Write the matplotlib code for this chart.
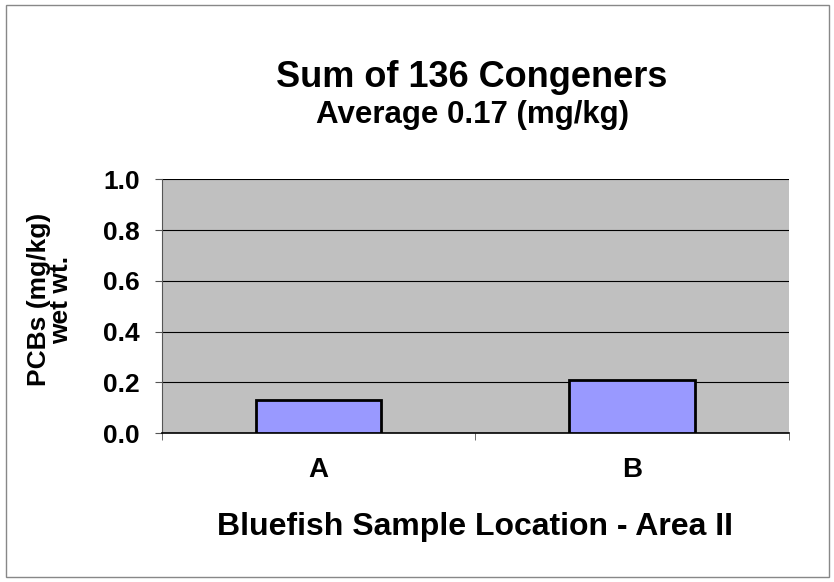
import matplotlib.pyplot as plt
from matplotlib.patches import Rectangle

plt.rcParams['font.family'] = ['Liberation Sans', 'DejaVu Sans']
plt.rcParams['font.weight'] = 'bold'

locations = ['A', 'B']
pcbs = [0.13, 0.21]
yticks = [0.0, 0.2, 0.4, 0.6, 0.8, 1.0]

fig = plt.figure(figsize=(8.34, 5.82), dpi=100)
fig.patches.append(Rectangle((0.007, 0.008), 0.987, 0.984, transform=fig.transFigure,
                             fill=False, edgecolor='#888888', linewidth=1))
ax = fig.add_axes([0.194, 0.256, 0.752, 0.436])
ax.set_facecolor('#c0c0c0')

x = range(len(locations))
ax.bar(x, pcbs, width=0.4, color='#9999ff', edgecolor='black', linewidth=2, zorder=3)

ax.set_xlim(-0.5, 1.5)
ax.set_ylim(0, 1.0)
ax.set_yticks(yticks)
ax.set_yticklabels(['%.1f' % v for v in yticks], fontsize=19, fontweight='bold')
ax.yaxis.grid(True, color='black', linewidth=0.8, zorder=1)
ax.set_axisbelow(True)

ax.set_xticks(list(x))
ax.set_xticklabels(locations, fontsize=20, fontweight='bold')
ax.tick_params(axis='x', which='major', length=0, pad=17)
ax.set_xticks([-0.5, 0.5, 1.5], minor=True)
ax.tick_params(axis='x', which='minor', length=5, color='#555555')
ax.tick_params(axis='y', length=5, color='#555555', pad=11)

for s in ['top', 'right']:
    ax.spines[s].set_visible(False)
ax.spines['left'].set_color('#555555')
ax.spines['bottom'].set_color('black')
ax.spines['bottom'].set_linewidth(1.2)

fig.text(0.06, 0.485, 'PCBs (mg/kg)\nwet wt.', rotation=90, ha='center', va='center',
         multialignment='center', fontsize=19, fontweight='bold', linespacing=0.95)
fig.text(0.5695, 0.081, 'Bluefish Sample Location - Area II', ha='center', va='baseline',
         fontsize=23, fontweight='bold')

fig.text(0.566, 0.8505, 'Sum of 136 Congeners', ha='center', va='baseline', fontsize=26, fontweight='bold')
fig.text(0.566, 0.7887, 'Average 0.17 (mg/kg)', ha='center', va='baseline', fontsize=22.5, fontweight='bold')

fig.savefig('out.png', dpi=100)
